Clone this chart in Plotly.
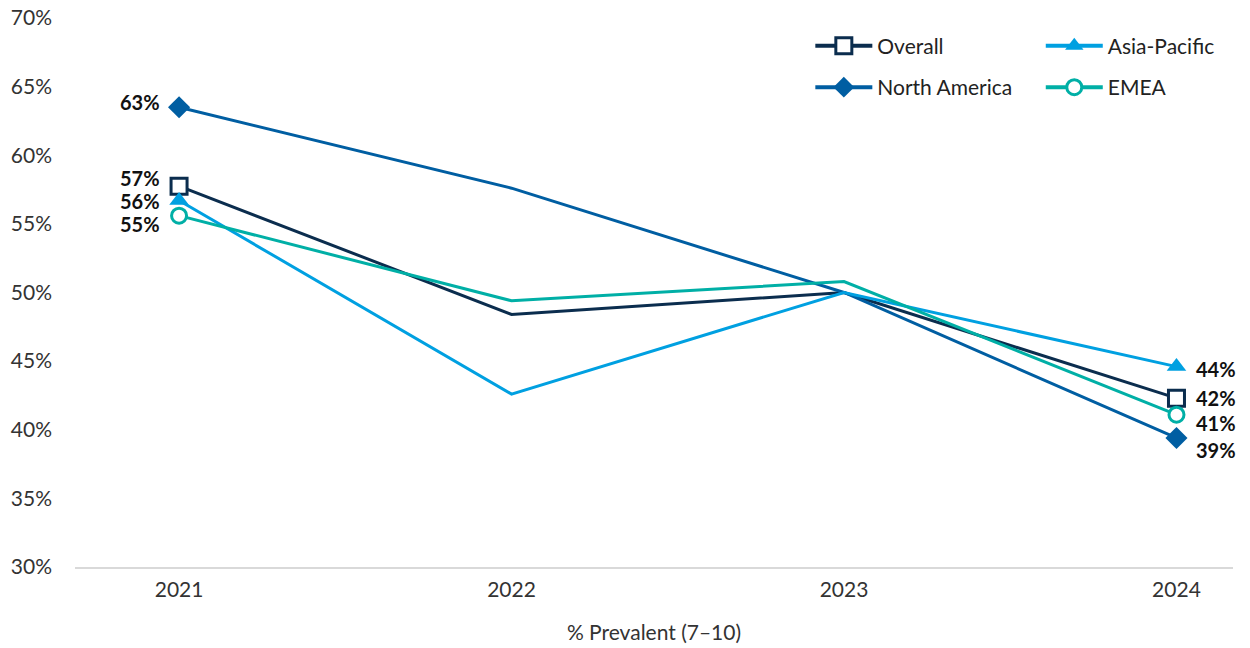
import plotly.graph_objects as go

years = [2021, 2022, 2023, 2024]
series_names = ["Overall", "North America", "Asia-Pacific", "EMEA"]
overall = [57.75, 48.4, 50.0, 42.3]
north_america = [63.5, 57.6, 50.0, 39.4]
asia_pacific = [56.7, 42.6, 50.0, 44.6]
emea = [55.6, 49.4, 50.8, 41.1]
start_labels = ["57%", "63%", "56%", "55%"]
end_labels = ["42%", "39%", "44%", "41%"]
y_ticks = [30, 35, 40, 45, 50, 55, 60, 65, 70]
x_title = "% Prevalent (7–10)"

values = [overall, north_america, asia_pacific, emea]
colors = ["#0B2D4E", "#005EA2", "#00A0E1", "#00AFA6"]
symbols = ["square", "diamond", "triangle-up", "circle"]
fills = ["white", "#005EA2", "#00A0E1", "white"]
msizes = [16, 17, 17, 15]
mlw = [3, 0, 0, 3]
legends = ["legend", "legend", "legend2", "legend2"]
start_shift = [8, 5, 0, -8]
end_shift = [0, -12, -2, -8]

fig = go.Figure()
for i, name in enumerate(series_names):
    opac = [1 if k in (0, len(years) - 1) else 0 for k in range(len(years))]
    fig.add_trace(go.Scatter(
        x=years, y=values[i], name=name, mode="lines+markers",
        line=dict(color=colors[i], width=3),
        marker=dict(symbol=symbols[i], size=msizes[i], color=fills[i],
                    opacity=opac,
                    line=dict(color=colors[i], width=mlw[i])),
        showlegend=False, hoverinfo="skip",
    ))
    # legend-only entry
    fig.add_trace(go.Scatter(
        x=[None], y=[None], name=name, mode="lines+markers",
        line=dict(color=colors[i], width=4),
        marker=dict(symbol=symbols[i], size=msizes[i], color=fills[i],
                    opacity=1, line=dict(color=colors[i], width=mlw[i])),
        legend=legends[i], legendgroup=name, showlegend=True, hoverinfo="skip",
    ))
    fig.add_annotation(x=years[0], y=values[i][0], text=start_labels[i],
                       showarrow=False, xanchor="right", xshift=-17,
                       yshift=start_shift[i],
                       font=dict(size=20, color="#111111", family="Lato", weight="bold"))
    fig.add_annotation(x=years[-1], y=values[i][-1], text=end_labels[i],
                       showarrow=False, xanchor="left", xshift=18,
                       yshift=end_shift[i],
                       font=dict(size=20, color="#111111", family="Lato", weight="bold"))

legend_style = dict(orientation="v", yanchor="top", xanchor="left",
                    font=dict(size=21, color="#222222", family="Lato"),
                    bgcolor="rgba(0,0,0,0)", tracegroupgap=11,
                    traceorder="grouped", itemwidth=57)

fig.update_layout(
    width=1250, height=648,
    margin=dict(l=75, r=17, t=18, b=81, autoexpand=False),
    paper_bgcolor="white", plot_bgcolor="white",
    font=dict(family="Lato", size=21, color="#333333"),
    showlegend=True,
    legend=dict(x=0.635, y=0.986, **legend_style),
    legend2=dict(x=0.834, y=0.986, **legend_style),
    xaxis=dict(range=[2020.687, 2024.17], tickvals=years,
               ticktext=[str(y) for y in years], showgrid=False,
               showline=True, linecolor="#D9D9D9", linewidth=2,
               ticks="", zeroline=False, automargin=False,
               ticklabelstandoff=3,
               tickfont=dict(size=21, color="#333333"),
               title=dict(text=x_title, font=dict(size=21, color="#333333"), standoff=25)),
    yaxis=dict(range=[30, 70], tickvals=y_ticks,
               ticktext=[f"{v}%" for v in y_ticks], showgrid=False,
               showline=False, zeroline=False, ticks="", automargin=False,
               tickfont=dict(size=21, color="#333333"),
               ticklabelstandoff=22),
)

fig.write_html("out.html")
